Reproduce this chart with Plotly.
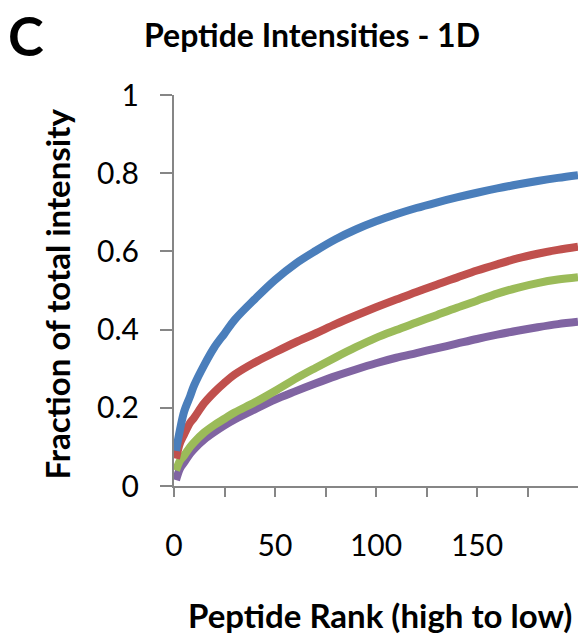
import plotly.graph_objects as go

rank = [1, 3, 5, 8, 10, 15, 20, 25, 30, 40, 50, 60, 70, 80, 90, 100,
        110, 120, 130, 140, 150, 160, 170, 180, 190, 200]

blue = [0.09, 0.145, 0.19, 0.23, 0.258, 0.31, 0.355, 0.39, 0.425, 0.478, 0.527,
        0.568, 0.601, 0.631, 0.656, 0.677, 0.695, 0.711, 0.725, 0.738, 0.75,
        0.761, 0.771, 0.78, 0.788, 0.795]
red = [0.07, 0.11, 0.132, 0.162, 0.175, 0.212, 0.24, 0.264, 0.285, 0.316, 0.342,
       0.367, 0.39, 0.414, 0.436, 0.457, 0.477, 0.496, 0.515, 0.533, 0.551,
       0.567, 0.582, 0.594, 0.604, 0.612]
green = [0.04, 0.065, 0.078, 0.1, 0.112, 0.137, 0.156, 0.172, 0.188, 0.214, 0.243,
         0.274, 0.302, 0.329, 0.355, 0.379, 0.399, 0.418, 0.437, 0.456, 0.474, 0.492,
         0.507, 0.519, 0.528, 0.534]
purple = [0.015, 0.045, 0.06, 0.083, 0.095, 0.119, 0.138, 0.155, 0.17, 0.196,
          0.221, 0.242, 0.262, 0.281, 0.298, 0.314, 0.328, 0.34, 0.352, 0.364,
          0.376, 0.387, 0.397, 0.406, 0.414, 0.42]

x_tickvals = [0, 25, 50, 75, 100, 125, 150, 175]
x_ticktext = ["0", "", "50", "", "100", "", "150", ""]
y_tickvals = [0, 0.2, 0.4, 0.6, 0.8, 1]
y_ticktext = ["0", "0.2", "0.4", "0.6", "0.8", "1"]

series = [("purple", purple, "#8064A2"), ("green", green, "#9BBB59"),
          ("red", red, "#C0504D"), ("blue", blue, "#4A7EBB")]

fig = go.Figure()
for name, vals, col in series:
    fig.add_trace(go.Scatter(x=rank, y=vals, mode="lines", name=name,
                             line=dict(color=col, width=8, shape="spline", smoothing=1.0),
                             showlegend=False, hoverinfo="skip"))

axis_col = "#868686"
font_family = "Lato"
fig.update_layout(
    width=578, height=637,
    margin=dict(l=174, r=0, t=95, b=151),
    paper_bgcolor="white", plot_bgcolor="white",
    font=dict(family=font_family, color="black"),
    xaxis=dict(range=[0, 200], tickvals=x_tickvals, ticktext=x_ticktext,
               showgrid=False, zeroline=False, showline=True, linecolor=axis_col,
               linewidth=2, ticks="outside", ticklen=9, tickwidth=2,
               tickcolor=axis_col, tickfont=dict(size=30, family=font_family),
               ticklabelstandoff=23),
    yaxis=dict(range=[0, 1], tickvals=y_tickvals, ticktext=y_ticktext,
               showgrid=False, zeroline=False, showline=True, linecolor=axis_col,
               linewidth=2, ticks="outside", ticklen=12, tickwidth=2,
               tickcolor=axis_col, tickfont=dict(size=30, family=font_family),
               ticklabelstandoff=15),
    annotations=[
        dict(text="<b>C</b>", xref="paper", yref="paper", x=0, y=1,
             xshift=-148, yshift=60, showarrow=False,
             font=dict(size=54, family=font_family), xanchor="center", yanchor="middle"),
        dict(text="<b>Peptide Intensities - 1D</b>", xref="paper", yref="paper",
             x=0, y=1, xshift=138, yshift=61, showarrow=False,
             font=dict(size=32, family=font_family), xanchor="center", yanchor="middle"),
        dict(text="<b>Fraction of total intensity</b>", xref="paper", yref="paper",
             x=0, y=0.5, xshift=-118, yshift=-4, showarrow=False, textangle=-90,
             font=dict(size=33, family=font_family), xanchor="center", yanchor="middle"),
        dict(text="<b>Peptide Rank (high to low)</b>", xref="paper", yref="paper",
             x=0.5, y=0, xshift=4, yshift=-129, showarrow=False,
             font=dict(size=33, family=font_family), xanchor="center", yanchor="middle"),
    ],
)

fig.write_html("out.html", config={"displayModeBar": False},
               post_script="document.body.style.margin='0';")
